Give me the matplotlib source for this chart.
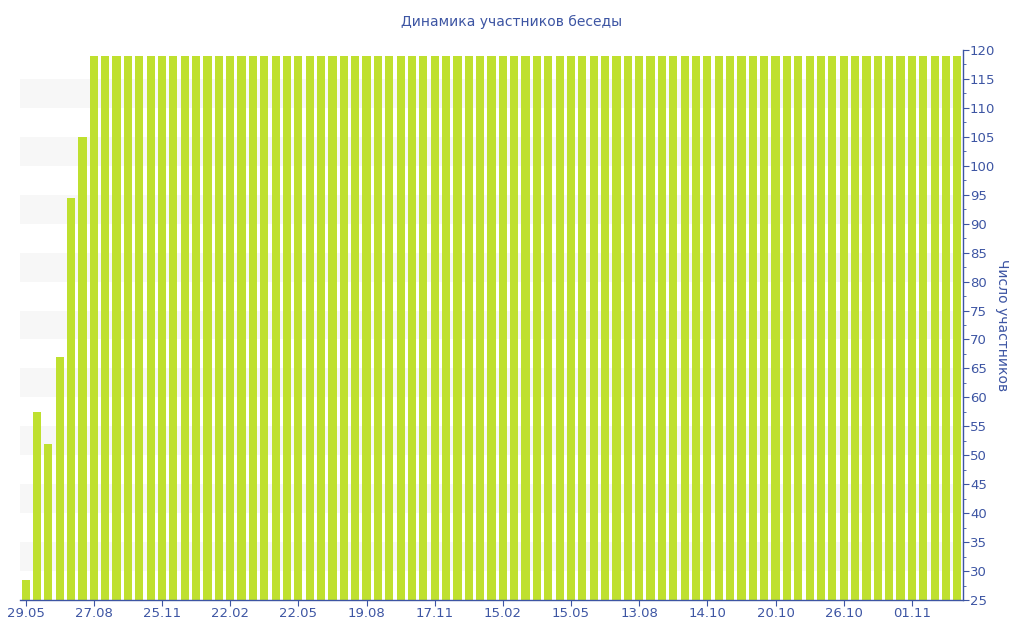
import numpy as np
import matplotlib.pyplot as plt

# chat members per period, 83 bars
values = [28.5, 57.5, 52, 67, 94.5, 105] + [119] * 77
tick_labels = ["29.05", "27.08", "25.11", "22.02", "22.05", "19.08", "17.11",
               "15.02", "15.05", "13.08", "14.10", "20.10", "26.10", "01.11"]
tick_step = 6

blue = "#3d55a3"
green = "#bfe02f"

fig = plt.figure(figsize=(10.24, 6.4), dpi=100)
ax = fig.add_axes([20/1024, 1 - 600/640, 943/1024, 550/640])

x = np.arange(len(values))
# striped background bands
for lo in range(30, 115, 10):
    ax.axhspan(lo, lo + 5, color="#f7f7f7", zorder=0, lw=0)
ax.bar(x, values, width=0.72, color=green, zorder=2)

ax.set_xlim(-0.5, len(values) - 0.5)
ax.set_ylim(25, 120)
ax.yaxis.tick_right()
ax.yaxis.set_label_position("right")
ax.set_yticks(np.arange(25, 121, 5))
ax.set_yticks(np.arange(25, 121, 2.5), minor=True)
ax.set_xticks(x[::tick_step])
ax.set_xticklabels(tick_labels)

for s in ["top", "left"]:
    ax.spines[s].set_visible(False)
for s in ["right", "bottom"]:
    ax.spines[s].set_color(blue)
    ax.spines[s].set_linewidth(1)
ax.tick_params(axis="both", colors=blue, labelsize=9.5, length=4, pad=1)
ax.tick_params(axis="y", which="minor", colors=blue, length=2.5)
ax.tick_params(axis="x", which="minor", length=0)

ax.set_ylabel("Число участников", color=blue, fontsize=10, rotation=-90, labelpad=10)
fig.text(512/1024, 1 - 22/640, "Динамика участников беседы", color=blue,
         fontsize=10, ha="center", va="center")

fig.savefig("out.png", dpi=100)
